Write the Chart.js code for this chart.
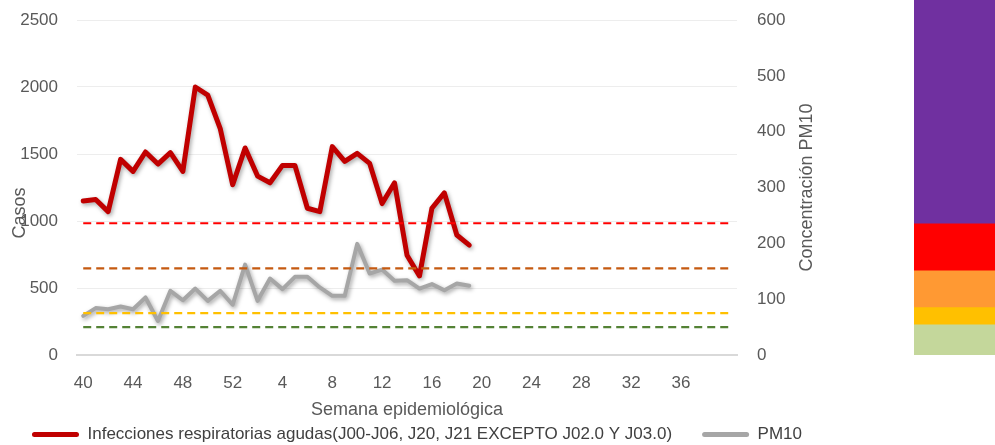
<!DOCTYPE html>
<html>
<head>
<meta charset="utf-8">
<script src="https://cdn.jsdelivr.net/npm/chart.js@4.4.1/dist/chart.umd.min.js"></script>
<style>
  html, body { margin: 0; padding: 0; background: #fff; }
  #wrap { position: relative; width: 995px; height: 445px; overflow: hidden; }
  #grafica { position: absolute; left: 0; top: 0; }
  #franjas { position: absolute; left: 914px; top: 0; }
</style>
</head>
<body>
<div id="wrap">
  <canvas id="grafica" width="834" height="445"></canvas>
  <canvas id="franjas" width="81" height="355"></canvas>
</div>
<script>
// semanas epidemiologicas (40 a 52 y luego 1 a 40)
const semanas = ['40', '41', '42', '43', '44', '45', '46', '47', '48', '49', '50', '51', '52',
  '1', '2', '3', '4', '5', '6', '7', '8', '9', '10', '11', '12', '13', '14', '15', '16', '17', '18', '19', '20',
  '21', '22', '23', '24', '25', '26', '27', '28', '29', '30', '31', '32', '33', '34', '35', '36', '37', '38', '39', '40'];

// casos IRA por semana (eje izquierdo)
const casos = [1150, 1160, 1070, 1460, 1370, 1515, 1425, 1510, 1370, 2000, 1940, 1690, 1270, 1545, 1335, 1285,
  1415, 1415, 1095, 1070, 1555, 1445, 1505, 1430, 1130, 1285, 745, 590, 1095, 1210, 895, 820];

// PM10 (eje derecho)
const pm10 = [70, 84, 82, 87, 82, 103, 61, 115, 98, 119, 97, 115, 90, 162, 97, 137,
  118, 140, 140, 121, 106, 106, 199, 146, 153, 133, 134, 119, 127, 116, 128, 124];

// lineas de referencia PM10
const umbrales = [236, 155, 75, 50];
const coloresUmbral = ['#FF0000', '#C55A11', '#FFC000', '#548235'];

// franjas de color a la derecha (escala PM10)
const franjas = [[0, 54], [54, 85], [85, 151], [151, 235], [235, 636]];
const coloresFranjas = ['#C4D79B', '#FFC000', '#FF9933', '#FF0000', '#7030A0'];

const fuente = "'Liberation Sans', Arial, sans-serif";
Chart.defaults.font.family = fuente;
Chart.defaults.font.size = 17;
Chart.defaults.color = '#595959';

// sombra tipo excel para las dos series principales
const sombra = {
  id: 'sombra',
  beforeDatasetDraw(chart, args) {
    if (args.index > 1) return;
    const ctx = chart.ctx;
    ctx.save();
    ctx.shadowColor = 'rgba(0,0,0,0.35)';
    ctx.shadowBlur = 4;
    ctx.shadowOffsetX = 1.5;
    ctx.shadowOffsetY = 2;
  },
  afterDatasetDraw(chart, args) {
    if (args.index > 1) return;
    chart.ctx.restore();
  }
};

// titulos de ejes
const titulos = {
  id: 'titulos',
  afterDraw(chart) {
    const ctx = chart.ctx;
    const a = chart.chartArea;
    ctx.save();
    ctx.fillStyle = '#595959';
    ctx.font = '18px ' + fuente;
    ctx.textAlign = 'center';
    ctx.textBaseline = 'middle';
    ctx.fillText('Semana epidemiológica', (a.left + a.right) / 2, a.bottom + 55);

    ctx.save();
    ctx.translate(20, a.top + 193);
    ctx.rotate(-Math.PI / 2);
    ctx.fillText('Casos', 0, 0);
    ctx.restore();

    ctx.translate(a.right + 70, (a.top + a.bottom) / 2);
    ctx.rotate(-Math.PI / 2);
    ctx.fillText('Concentración PM10', 0, 0);
    ctx.restore();
  }
};

let datasets = [
  {
    label: 'Infecciones respiratorias agudas(J00-J06, J20, J21 EXCEPTO J02.0 Y J03.0)',
    data: casos,
    yAxisID: 'y',
    borderColor: '#C00000',
    backgroundColor: '#C00000',
    borderWidth: 5,
    borderJoinStyle: 'round',
    borderCapStyle: 'round',
    pointRadius: 0,
    order: 2
  },
  {
    label: 'PM10',
    data: pm10,
    yAxisID: 'y1',
    borderColor: '#A6A6A6',
    backgroundColor: '#A6A6A6',
    borderWidth: 4,
    borderJoinStyle: 'round',
    borderCapStyle: 'round',
    pointRadius: 0,
    order: 2
  }
];

for (let i = 0; i < umbrales.length; i++) {
  datasets.push({
    label: 'umbral ' + umbrales[i],
    data: semanas.map(() => umbrales[i]),
    yAxisID: 'y1',
    borderColor: coloresUmbral[i],
    borderWidth: 2.2,
    borderDash: [8, 5],
    pointRadius: 0,
    order: 1
  });
}

// ancho fijo para los ejes verticales, sin relleno extra arriba/abajo
function fijarAncho(w) {
  return (s) => {
    s.width = w;
    s.paddingTop = 0;
    s.paddingBottom = 0;
  };
}

new Chart(document.getElementById('grafica'), {
  type: 'line',
  data: { labels: semanas, datasets: datasets },
  options: {
    responsive: false,
    animation: false,
    events: [],
    layout: { padding: { top: 20, right: 0, bottom: -8, left: 0 } },
    plugins: {
      tooltip: { enabled: false },
      legend: {
        position: 'bottom',
        labels: {
          boxWidth: 47,
          boxHeight: 5,
          padding: 30,
          color: '#404040',
          useBorderRadius: true,
          borderRadius: 2.5,
          filter: (item) => item.datasetIndex < 2,
          generateLabels: (chart) => Chart.defaults.plugins.legend.labels.generateLabels(chart)
            .map(it => Object.assign(it, { lineWidth: 0 }))
        }
      }
    },
    scales: {
      x: {
        offset: true,
        grid: { display: false },
        border: { display: true, color: '#D9D9D9', width: 2 },
        ticks: {
          autoSkip: false,
          maxRotation: 0,
          padding: 10,
          // etiqueta cada 4 semanas, la ultima no se muestra
          callback: function (v, i) { return i % 4 === 0 && i < semanas.length - 1 ? this.getLabelForValue(v) : ''; }
        },
        afterFit: (s) => { s.height = 41; }
      },
      y: {
        position: 'left',
        min: 0,
        max: 2500,
        ticks: { stepSize: 500, padding: 19, callback: (v) => String(v) },
        grid: { color: '#EDEDED', drawTicks: false },
        border: { display: false },
        afterFit: fijarAncho(77)
      },
      y1: {
        position: 'right',
        min: 0,
        max: 600,
        ticks: { stepSize: 100, padding: 20, callback: (v) => String(v) },
        grid: { display: false, drawTicks: false },
        border: { display: false },
        afterFit: fijarAncho(97)
      }
    }
  },
  plugins: [sombra, titulos]
});

// barra de franjas de calidad del aire
new Chart(document.getElementById('franjas'), {
  type: 'bar',
  data: {
    labels: ['PM10'],
    datasets: franjas.map((f, i) => ({
      data: [f],
      backgroundColor: coloresFranjas[i],
      borderWidth: 0,
      barPercentage: 1,
      categoryPercentage: 1,
      grouped: false
    }))
  },
  options: {
    responsive: false,
    animation: false,
    events: [],
    layout: { padding: 0 },
    plugins: { legend: { display: false }, tooltip: { enabled: false } },
    scales: {
      x: { display: false },
      y: { display: false, min: 0, max: 636 }
    }
  }
});
</script>
</body>
</html>
